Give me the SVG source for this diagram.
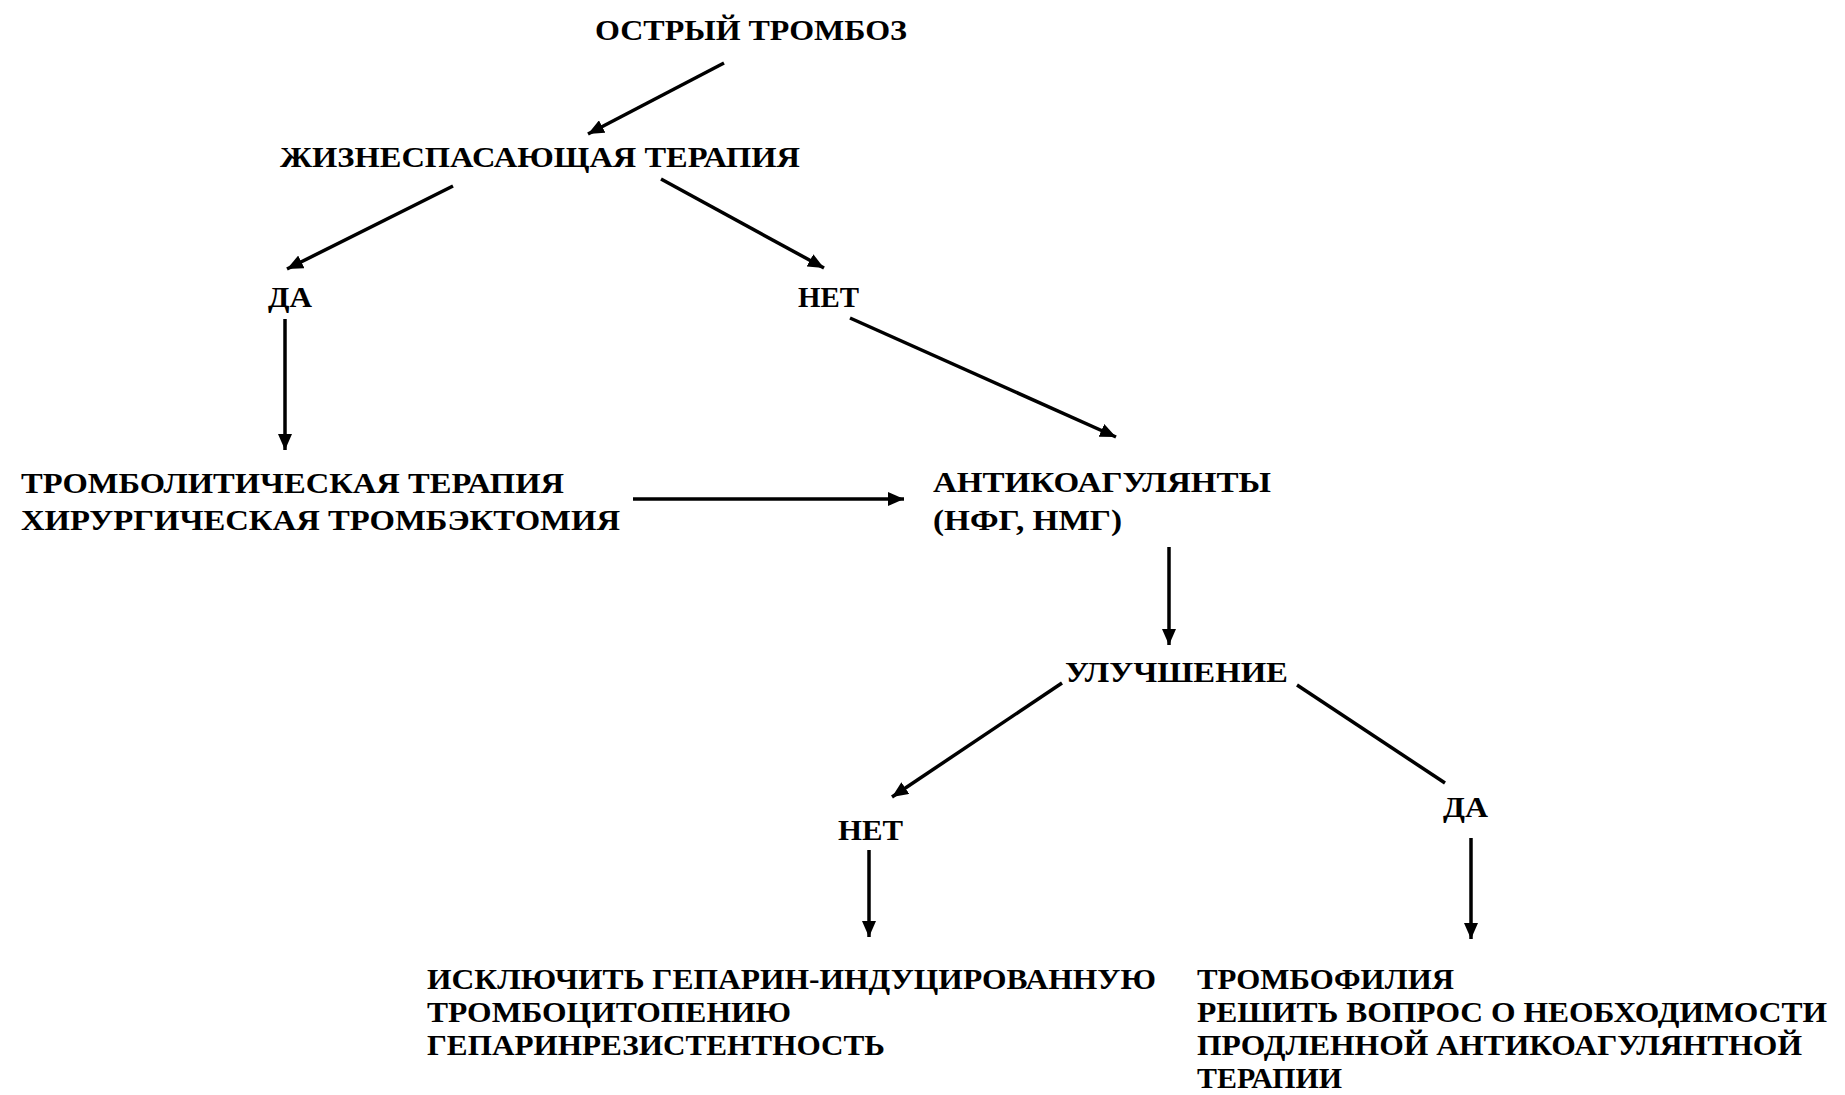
<svg xmlns="http://www.w3.org/2000/svg" width="1845" height="1095" viewBox="0 0 1845 1095">
<defs>
<marker id="ah" markerUnits="userSpaceOnUse" markerWidth="18" markerHeight="14" refX="16" refY="7" orient="auto">
<path d="M0,0 L16,7 L0,14 z" fill="#000"/>
</marker>
<style>
text{font-family:"Liberation Serif","Times New Roman",serif;font-weight:bold;font-size:30px;fill:#000}
.c line{stroke:#000;stroke-width:3.5;fill:none}
.c .a{marker-end:url(#ah)}
</style>
</defs>
<rect width="1845" height="1095" fill="#fff"/>
<g id="n-acute"><text x="595" y="40" textLength="312" lengthAdjust="spacingAndGlyphs">ОСТРЫЙ ТРОМБОЗ</text></g>
<g id="n-life"><text x="280" y="167" textLength="520" lengthAdjust="spacingAndGlyphs">ЖИЗНЕСПАСАЮЩАЯ ТЕРАПИЯ</text></g>
<g id="n-yes1"><text x="268" y="307" textLength="44" lengthAdjust="spacingAndGlyphs">ДА</text></g>
<g id="n-no1"><text x="798" y="307" textLength="61" lengthAdjust="spacingAndGlyphs">НЕТ</text></g>
<g id="n-thromb">
<text x="21" y="493" textLength="543" lengthAdjust="spacingAndGlyphs">ТРОМБОЛИТИЧЕСКАЯ ТЕРАПИЯ</text>
<text x="21" y="530" textLength="599" lengthAdjust="spacingAndGlyphs">ХИРУРГИЧЕСКАЯ ТРОМБЭКТОМИЯ</text>
</g>
<g id="n-anticoag">
<text x="933" y="492" textLength="338" lengthAdjust="spacingAndGlyphs">АНТИКОАГУЛЯНТЫ</text>
<text x="933" y="530" textLength="189" lengthAdjust="spacingAndGlyphs">(НФГ, НМГ)</text>
</g>
<g id="n-improve"><text x="1065" y="682" textLength="223" lengthAdjust="spacingAndGlyphs">УЛУЧШЕНИЕ</text></g>
<g id="n-no2"><text x="838" y="840" textLength="65" lengthAdjust="spacingAndGlyphs">НЕТ</text></g>
<g id="n-yes2"><text x="1443" y="817" textLength="45" lengthAdjust="spacingAndGlyphs">ДА</text></g>
<g id="n-exclude">
<text x="427" y="989" textLength="729" lengthAdjust="spacingAndGlyphs">ИСКЛЮЧИТЬ ГЕПАРИН-ИНДУЦИРОВАННУЮ</text>
<text x="427" y="1022" textLength="364" lengthAdjust="spacingAndGlyphs">ТРОМБОЦИТОПЕНИЮ</text>
<text x="427" y="1055" textLength="458" lengthAdjust="spacingAndGlyphs">ГЕПАРИНРЕЗИСТЕНТНОСТЬ</text>
</g>
<g id="n-thrombophilia">
<text x="1197" y="989" textLength="257" lengthAdjust="spacingAndGlyphs">ТРОМБОФИЛИЯ</text>
<text x="1197" y="1022" textLength="630" lengthAdjust="spacingAndGlyphs">РЕШИТЬ ВОПРОС О НЕОБХОДИМОСТИ</text>
<text x="1197" y="1055" textLength="605" lengthAdjust="spacingAndGlyphs">ПРОДЛЕННОЙ АНТИКОАГУЛЯНТНОЙ</text>
<text x="1197" y="1088" textLength="145" lengthAdjust="spacingAndGlyphs">ТЕРАПИИ</text>
</g>
<g id="connectors" class="c">
<line class="a" x1="724" y1="63" x2="588" y2="134"/>
<line class="a" x1="453" y1="186" x2="287" y2="269"/>
<line class="a" x1="661" y1="179" x2="824" y2="268"/>
<line class="a" x1="285" y1="319" x2="285" y2="450"/>
<line class="a" x1="850" y1="318" x2="1116" y2="437"/>
<line class="a" x1="633" y1="499" x2="904" y2="499"/>
<line class="a" x1="1169" y1="547" x2="1169" y2="645"/>
<line class="a" x1="1062" y1="683" x2="892" y2="797"/>
<line x1="1297" y1="685" x2="1445" y2="783"/>
<line class="a" x1="869" y1="850" x2="869" y2="937"/>
<line class="a" x1="1471" y1="838" x2="1471" y2="939"/>
</g>
</svg>
